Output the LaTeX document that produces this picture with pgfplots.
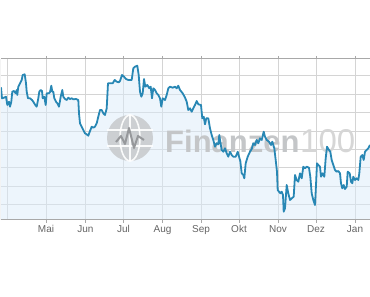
\documentclass[border=0pt]{standalone}
\usepackage{pgfplots}
\usepackage{pgfplotstable}
\pgfplotsset{compat=1.18}
\usepackage{fontspec}
\setmainfont{Liberation Sans}
\definecolor{lineblue}{RGB}{40,135,180}
\definecolor{areablue}{RGB}{219,235,249}
\definecolor{gridgray}{RGB}{212,212,212}
\definecolor{framegray}{RGB}{168,168,168}
\definecolor{labelgray}{RGB}{100,100,100}
\definecolor{wmgray}{RGB}{196,198,200}
\definecolor{wmlight}{RGB}{214,214,214}
\definecolor{wmdark}{RGB}{150,152,155}
\pgfplotstableread{
x y
1 132.7
2 121.7
4 122.3
6 123.3
7.3 115
9 118.3
10 113.3
11.3 118.3
12.3 128.3
14 129
15.7 126.7
16.7 130
17.3 125
18.3 133.3
20 136.7
21.7 140
22.7 145
24.7 145.7
26 136.7
26.7 128.3
28 121.7
30 121.7
32 120
33.3 118.3
35.3 115
36.7 113.3
38.3 121.7
39.3 128.3
40.7 130
42 129
42.7 121.7
44.3 123.3
45.7 115
46.7 126.7
48.7 126.7
50 127.7
51.3 134.3
52.3 128.3
53.3 128.3
54.3 121.7
56 118.3
57.3 116.7
59 113.3
60.7 123.3
62.3 130
63.3 123.3
65 121
66.7 120
68.3 122.3
70 121
71.7 121.7
73.3 120.7
76 121
78.3 120
79 106.7
80 96.7
81.7 93.3
83.3 90
85 86.7
86.7 85.7
88.3 84.3
90 89
91.7 93.3
93.3 92.3
95 93.3
96.7 96.7
98.3 103.3
100 110
101.7 110
103.3 106.7
105 105
106.7 111.7
108 136.7
110 136.7
112.7 136.7
114.7 140
116.7 138.3
118.7 137.7
120 139
122 145
124 143.3
126 141
128.3 140
131.7 140
133.3 151.7
135 153.3
137.3 154.3
138.7 145
140 128.3
141.3 123.3
142.7 126.7
144 141
145.3 133.3
147.3 135
149.3 131.7
150.7 133.3
152 121.7
153.3 131.7
155 130
156.7 126.7
158.3 125
160 121.7
161.3 113.3
162.7 121.7
165 120
166.7 125
168.3 131.7
170 133.3
172.7 132.3
175 133.3
176.7 131.7
178.3 134.3
180 130
182.7 126.7
185 122.5
186.7 118.3
188.3 110
190 111.7
191.7 108.3
193.3 111.7
195 115
196.7 119
198.3 115.7
201 115
202.3 101.7
203.7 103.3
205 95.7
206.3 101.7
208.3 101.7
210 91.7
211.7 85
213.3 80
215 73.3
216.7 76.7
218.3 75.7
219.3 85
220.3 78.3
221.7 70
223.3 68.3
225 71.7
226.7 66.7
228.3 63.3
230 68.3
231.7 65
233.3 63.3
235.7 63.3
237.7 68.3
239.3 62.3
240.3 59
241.7 46.7
243.3 45
244.3 41.7
245.7 56.7
247.7 63.3
250 68.3
251.7 71
253.3 76.7
255 75
256.7 80
258.3 76.7
260 81.7
261.7 80
263.7 88.3
265 83.3
266.7 80
269 78.3
271 75
272.3 78.3
274.3 71.7
275.7 60
277 48.3
277.7 30
279 28.3
280.3 26.7
281.7 28.3
283 25
283.7 8.3
285 11.7
286.7 35
288.3 26.7
290 20
291.7 21.7
293.7 23.3
295 45
296.7 40
298.3 38.3
300 46.7
301.7 41.7
303.3 53.3
305 51.7
306.7 53.3
309 52.3
310.3 43.3
311.7 26.7
313.3 20
315 15
316 35
317 56.7
318.3 55
320 53.3
321 43.3
322.3 46.7
324.3 43.3
325.7 61.7
327 73.3
329 70
330.3 68.3
331.7 60
333.3 55
335 50
336.7 48.3
338.3 49
340 46.7
341 36.7
342.3 31.7
343.7 35
345 31
346.7 33.3
347.7 48.3
349.7 46.7
351 38.3
352.3 36.7
353.3 43.3
355 40
356.7 41.7
358.3 40
359.3 46.7
360.7 63.3
362.3 65
363.7 60
365 68.3
366.7 70
368.3 71.7
370 75
}\pricedata
\begin{document}
\begin{tikzpicture}
\path[use as bounding box] (0,0) rectangle (370pt,297pt);
\begin{axis}[
  at={(1pt,77pt)}, anchor=south west,
  width=369pt, height=161pt, scale only axis,
  xmin=1, xmax=370, ymin=0, ymax=161,
  axis line style={draw=none},
  xtick={46,85.5,123.5,162.5,201,239,278,316,355},
  xticklabels={Mai,Jun,Jul,Aug,Sep,Okt,Nov,Dez,Jan},
  extra x ticks={8}, extra x tick labels={},
  extra x tick style={major tick length=0pt, grid=major},
  ytick={15.2,33.6,52,70.4,88.8,107.2,125.6,144},
  yticklabels={},
  ymajorgrids, xmajorgrids,
  grid style={draw=gridgray, line width=1pt},
  tick align=outside,
  xtick style={draw=framegray, line width=1pt},
  ytick style={draw=none},
  major tick length=3pt,
  x tick label style={font=\fontsize{10}{12}\selectfont, text=labelgray, inner sep=2pt},
  clip=true,
]
\addplot[draw=none, fill=areablue, fill opacity=0.5] table[x=x,y=y] {\pricedata} \closedcycle;
% watermark
\fill[wmgray, opacity=0.8] (axis cs:130,82) circle[radius=23pt];
\draw[white, line width=1.6pt, opacity=0.9] (axis cs:130,82) ellipse[x radius=10pt, y radius=23pt];
\draw[white, line width=1.6pt, opacity=0.9] (axis cs:107,90) -- (axis cs:153,90);
\draw[white, line width=1.6pt, opacity=0.9] (axis cs:107,74) -- (axis cs:153,74);
\draw[white, line width=1.6pt, opacity=0.9] (axis cs:130,59) -- (axis cs:130,105);
\draw[wmdark, line width=2pt, line join=round]
  (axis cs:116,78) -- (axis cs:121,84) -- (axis cs:125,76) -- (axis cs:129,92) -- (axis cs:134,72) -- (axis cs:138,84) -- (axis cs:144,80);
\node[anchor=base west, inner sep=0pt, text=wmgray, font=\fontsize{31}{31}\selectfont\bfseries] at (axis cs:165,67) {Finanzen};
\node[anchor=base west, inner sep=0pt, text=wmlight, font=\fontsize{33}{33}\selectfont] at (axis cs:300,67) {100};
\addplot[draw=lineblue, line width=1.8pt, line join=round] table[x=x,y=y] {\pricedata};
\draw[framegray, line width=1pt] (rel axis cs:0,0) -- (rel axis cs:1,0);
\draw[framegray, line width=1pt] (rel axis cs:0,1) -- (rel axis cs:1,1);
\draw[framegray, line width=1pt] (rel axis cs:0,0) -- (rel axis cs:0,1);
\end{axis}
\end{tikzpicture}
\end{document}
